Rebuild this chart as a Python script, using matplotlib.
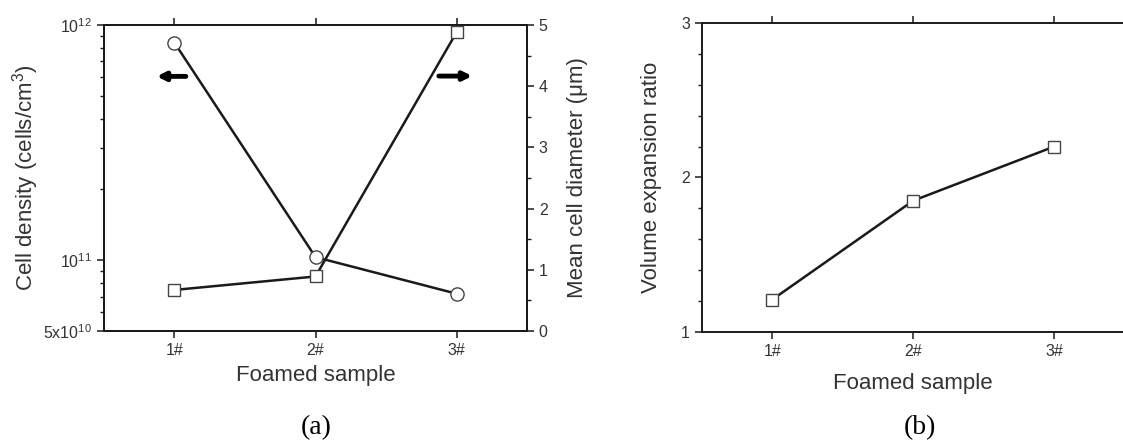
import matplotlib
matplotlib.use('Agg')
import matplotlib.pyplot as plt
from matplotlib.ticker import LogLocator, MultipleLocator, FixedLocator, NullFormatter

plt.rcParams['font.family'] = ['Liberation Sans', 'DejaVu Sans']
plt.rcParams['mathtext.fontset'] = 'custom'
plt.rcParams['mathtext.rm'] = 'Liberation Sans'
plt.rcParams['mathtext.it'] = 'Liberation Sans:italic'

# data
samples = ['1#', '2#', '3#']
sample_pos = [1, 2, 3]
cell_density = [8.4e11, 1.03e11, 7.2e10]      # cells/cm^3, circles, left axis
cell_diameter = [0.67, 0.89, 4.88]            # um, squares, right axis
expansion_ratio = [1.21, 1.85, 2.20]          # panel (b)

ink = '#1a1a1a'
txt = '#333333'
lw = 1.8

fig = plt.figure(figsize=(11.23, 4.46), dpi=100)


def style_ticks(ax):
    ax.tick_params(axis='both', which='major', direction='out', length=5, width=1.1,
                   colors=ink, labelcolor=txt, labelsize=11.5)
    ax.tick_params(axis='both', which='minor', direction='out', length=3, width=1.0, colors=ink)
    for s in ax.spines.values():
        s.set_linewidth(1.4)
        s.set_color(ink)


# ---- panel (a) ----
ax = fig.add_axes([0.0926, 0.258, 0.3767, 0.686])
ax.plot(sample_pos, cell_density, '-o', color=ink, lw=lw, ms=9.5, mfc='white',
        mec='#444444', mew=1.0, zorder=3)
ax.set_yscale('log')
ax.set_ylim(5e10, 1e12)
ax.set_xlim(0.5, 3.5)
ax.yaxis.set_major_locator(FixedLocator([5e10, 1e11, 1e12]))
ax.set_yticklabels([r'5x10$^{10}$', r'10$^{11}$', r'10$^{12}$'])
ax.yaxis.set_minor_locator(LogLocator(base=10, subs=range(2, 10)))
ax.yaxis.set_minor_formatter(NullFormatter())
ax.set_xticks(sample_pos)
ax.set_xticklabels(samples)
ax.tick_params(top=True, labeltop=False)
style_ticks(ax)
ax.tick_params(axis='y', which='minor', left=True, right=False)
ax.set_ylabel('Cell density (cells/cm$^3$)', fontsize=16, color=txt, labelpad=2)
ax.set_xlabel('Foamed sample', fontsize=16, color=txt, labelpad=5)

ax2 = ax.twinx()
ax2.plot(sample_pos, cell_diameter, '-s', color=ink, lw=lw, ms=9, mfc='white',
         mec='#444444', mew=1.0, zorder=3)
ax2.set_ylim(0, 5)
ax2.yaxis.set_major_locator(MultipleLocator(1))
ax2.yaxis.set_minor_locator(MultipleLocator(0.5))
style_ticks(ax2)
ax2.set_ylabel('Mean cell diameter (\u03bcm)', fontsize=16, color=txt, labelpad=14)

# direction arrows
ax.annotate('', xy=(0.118, 0.832), xytext=(0.200, 0.832), xycoords='axes fraction',
            arrowprops=dict(arrowstyle='-|>', color='black', lw=3.5, mutation_scale=12))
ax.annotate('', xy=(0.877, 0.833), xytext=(0.785, 0.833), xycoords='axes fraction',
            arrowprops=dict(arrowstyle='-|>', color='black', lw=3.5, mutation_scale=12))

fig.text(0.2814, 0.042, '(a)', family='Liberation Serif', fontsize=20, ha='center', va='center')

# ---- panel (b) ----
bx = fig.add_axes([0.625, 0.2556, 0.3765, 0.693])
bx.plot(sample_pos, expansion_ratio, '-s', color=ink, lw=lw, ms=9, mfc='white',
        mec='#444444', mew=1.0, zorder=3)
bx.set_xlim(0.5, 3.5)
bx.set_ylim(1, 3)
bx.yaxis.set_major_locator(MultipleLocator(1))
bx.yaxis.set_minor_locator(MultipleLocator(0.2))
bx.set_xticks(sample_pos)
bx.set_xticklabels(samples)
bx.tick_params(top=True, labeltop=False)
style_ticks(bx)
bx.spines['right'].set_visible(False)
bx.set_ylabel('Volume expansion ratio', fontsize=16, color=txt, labelpad=14)
bx.set_xlabel('Foamed sample', fontsize=16, color=txt, labelpad=10)

fig.text(0.8195, 0.042, '(b)', family='Liberation Serif', fontsize=20, ha='center', va='center')

fig.savefig('out.png', dpi=100)
